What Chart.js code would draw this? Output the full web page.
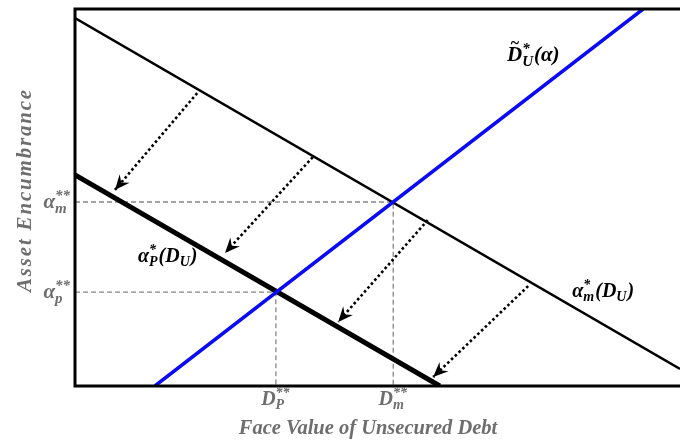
<!DOCTYPE html>
<html>
<head>
<meta charset="utf-8">
<script src="https://cdn.jsdelivr.net/npm/chart.js@4"></script>
<style>
  html, body { margin: 0; padding: 0; background: #fff; }
  #wrap { width: 680px; height: 443px; }
</style>
</head>
<body>
<div id="wrap"><canvas id="chart"></canvas></div>
<script>
// curves (abstract units, axes 0..100)
const alphaMLine = [{x: 0, y: 97.6}, {x: 100, y: 4.5}];   // alpha*_m(D_U)
const alphaPLine = [{x: 0, y: 56.0}, {x: 60.3, y: 0}];    // alpha*_P(D_U)
const debtLine   = [{x: 13.2, y: 0}, {x: 93.9, y: 100}];  // D~*_U(alpha)

// equilibrium points
const alphaStar = [24.9, 48.8];  // alpha_p**, alpha_m**
const debtStar  = [33.2, 52.6];  // D_P**, D_m**

// dotted shift arrows (from -> to)
const arrowFrom = [{x: 20.2, y: 77.7}, {x: 39.3, y: 60.7}, {x: 58.3, y: 44.0}, {x: 74.9, y: 26.5}];
const arrowTo   = [{x: 6.6, y: 52.0}, {x: 24.8, y: 35.3}, {x: 43.5, y: 17.0}, {x: 59.2, y: 2.4}];

const grey = '#6e6e6e';
const serif = '"Liberation Serif", "DejaVu Serif", serif';

// draw text made of parts: {t}, {sup}, {sub}, {sup, sub}
function richWidth(ctx, parts, size) {
    let w = 0;
    parts.forEach(p => {
        if (p.t !== undefined) {
            ctx.font = 'italic bold ' + size + 'px ' + serif;
            w += ctx.measureText(p.t).width;
        } else {
            ctx.font = 'italic bold ' + Math.round(size * 0.7) + 'px ' + serif;
            const a = p.sup ? ctx.measureText(p.sup).width : 0;
            const b = p.sub ? ctx.measureText(p.sub).width : 0;
            w += Math.max(a, b) + 1;
        }
    });
    return w;
}

function drawRich(ctx, x, y, parts, size, color, align) {
    let w = richWidth(ctx, parts, size);
    let cx = x;
    if (align === 'right') cx = x - w;
    if (align === 'center') cx = x - w / 2;
    ctx.fillStyle = color;
    ctx.textBaseline = 'alphabetic';
    ctx.textAlign = 'left';
    parts.forEach(p => {
        if (p.t !== undefined) {
            ctx.font = 'italic bold ' + size + 'px ' + serif;
            ctx.fillText(p.t, cx, y);
            if (p.tilde) {
                ctx.font = 'bold ' + Math.round(size * 0.75) + 'px ' + serif;
                ctx.fillText('~', cx + size * 0.18, y - size * 0.62);
                ctx.font = 'italic bold ' + size + 'px ' + serif;
            }
            cx += ctx.measureText(p.t).width;
        } else {
            ctx.font = 'italic bold ' + Math.round(size * 0.7) + 'px ' + serif;
            let a = 0, b = 0;
            if (p.sup) { ctx.fillText(p.sup, cx, y - size * 0.4); a = ctx.measureText(p.sup).width; }
            if (p.sub) { ctx.fillText(p.sub, cx, y + size * 0.22); b = ctx.measureText(p.sub).width; }
            cx += Math.max(a, b) + 1;
        }
    });
}

const annotatePlugin = {
    id: 'annotate',
    afterDatasetsDraw(chart) {
        const ctx = chart.ctx;
        const xs = chart.scales.x, ys = chart.scales.y;
        const area = chart.chartArea;
        ctx.save();

        // arrow heads
        chart.data.datasets.forEach((ds, i) => {
            if (!ds.arrow) return;
            const pts = chart.getDatasetMeta(i).data;
            const p0 = pts[0], p1 = pts[1];
            const ang = Math.atan2(p1.y - p0.y, p1.x - p0.x);
            const L = 15, W = 6.5;
            ctx.save();
            ctx.translate(p1.x, p1.y);
            ctx.rotate(ang);
            ctx.beginPath();
            ctx.moveTo(0, 0);
            ctx.lineTo(-L, -W);
            ctx.lineTo(-L * 0.65, 0);
            ctx.lineTo(-L, W);
            ctx.closePath();
            ctx.fillStyle = '#000';
            ctx.fill();
            ctx.restore();
        });

        // frame: top, left, bottom
        ctx.strokeStyle = '#000';
        ctx.lineWidth = 3;
        ctx.beginPath();
        ctx.moveTo(chart.width, area.top);
        ctx.lineTo(area.left, area.top);
        ctx.lineTo(area.left, area.bottom);
        ctx.lineTo(chart.width, area.bottom);
        ctx.stroke();

        // y tick labels
        drawRich(ctx, area.left - 4, ys.getPixelForValue(alphaStar[1]) + 6,
            [{t: 'α'}, {sup: '**', sub: 'm'}], 21, grey, 'right');
        drawRich(ctx, area.left - 4, ys.getPixelForValue(alphaStar[0]) + 6,
            [{t: 'α'}, {sup: '**', sub: 'p'}], 21, grey, 'right');

        // x tick labels
        drawRich(ctx, xs.getPixelForValue(debtStar[0]), area.bottom + 19,
            [{t: 'D'}, {sup: '**', sub: 'P'}], 20, grey, 'center');
        drawRich(ctx, xs.getPixelForValue(debtStar[1]), area.bottom + 19,
            [{t: 'D'}, {sup: '**', sub: 'm'}], 20, grey, 'center');

        // axis titles
        ctx.font = 'italic bold 20.5px ' + serif;
        ctx.fillStyle = grey;
        ctx.textAlign = 'center';
        ctx.textBaseline = 'alphabetic';
        ctx.fillText('Face Value of Unsecured Debt', 368, area.bottom + 48);
        ctx.save();
        ctx.translate(31, 190);
        ctx.rotate(-Math.PI / 2);
        ctx.font = 'italic bold 21px ' + serif;
        ctx.letterSpacing = '1.8px';
        ctx.fillText('Asset Encumbrance', 0, 0);
        ctx.restore();

        // curve labels
        drawRich(ctx, xs.getPixelForValue(71.4), ys.getPixelForValue(86.2),
            [{t: 'D', tilde: true}, {sup: '*', sub: 'U'}, {t: '(α)'}], 21, '#000', 'left');
        drawRich(ctx, xs.getPixelForValue(82.2), ys.getPixelForValue(23.6),
            [{t: 'α'}, {sup: '*', sub: 'm'}, {t: '(D'}, {sub: 'U'}, {t: ')'}], 20, '#000', 'left');
        drawRich(ctx, xs.getPixelForValue(10.4), ys.getPixelForValue(32.9),
            [{t: 'α'}, {sup: '*', sub: 'P'}, {t: '(D'}, {sub: 'U'}, {t: ')'}], 20, '#000', 'left');

        ctx.restore();
    }
};

const datasets = [
    {data: debtLine, borderColor: '#0a0af5', borderWidth: 3.5, order: 0},
    {data: alphaMLine, borderColor: '#000', borderWidth: 2.5, order: 1},
    {data: alphaPLine, borderColor: '#000', borderWidth: 5, order: 1},
    {data: [{x: 0, y: alphaStar[1]}, {x: debtStar[1], y: alphaStar[1]}, {x: debtStar[1], y: 0}],
     borderColor: '#888', borderWidth: 1.3, borderDash: [5, 3], order: 3},
    {data: [{x: 0, y: alphaStar[0]}, {x: debtStar[0], y: alphaStar[0]}, {x: debtStar[0], y: 0}],
     borderColor: '#888', borderWidth: 1.3, borderDash: [5, 3], order: 3}
];
arrowFrom.forEach((p, i) => {
    datasets.push({data: [p, arrowTo[i]], borderColor: '#000', borderWidth: 2.6,
        borderDash: [2.6, 2.6], arrow: true, order: 2});
});

new Chart(document.getElementById('chart'), {
    type: 'line',
    data: {datasets: datasets},
    options: {
        responsive: true,
        maintainAspectRatio: false,
        animation: false,
        events: [],
        layout: {padding: {left: 75, top: 9, right: 0, bottom: 57}},
        elements: {point: {radius: 0}, line: {tension: 0, fill: false}},
        plugins: {legend: {display: false}, tooltip: {enabled: false}},
        scales: {
            x: {type: 'linear', min: 0, max: 100, display: false},
            y: {type: 'linear', min: 0, max: 100, display: false}
        }
    },
    plugins: [annotatePlugin]
});
</script>
</body>
</html>
